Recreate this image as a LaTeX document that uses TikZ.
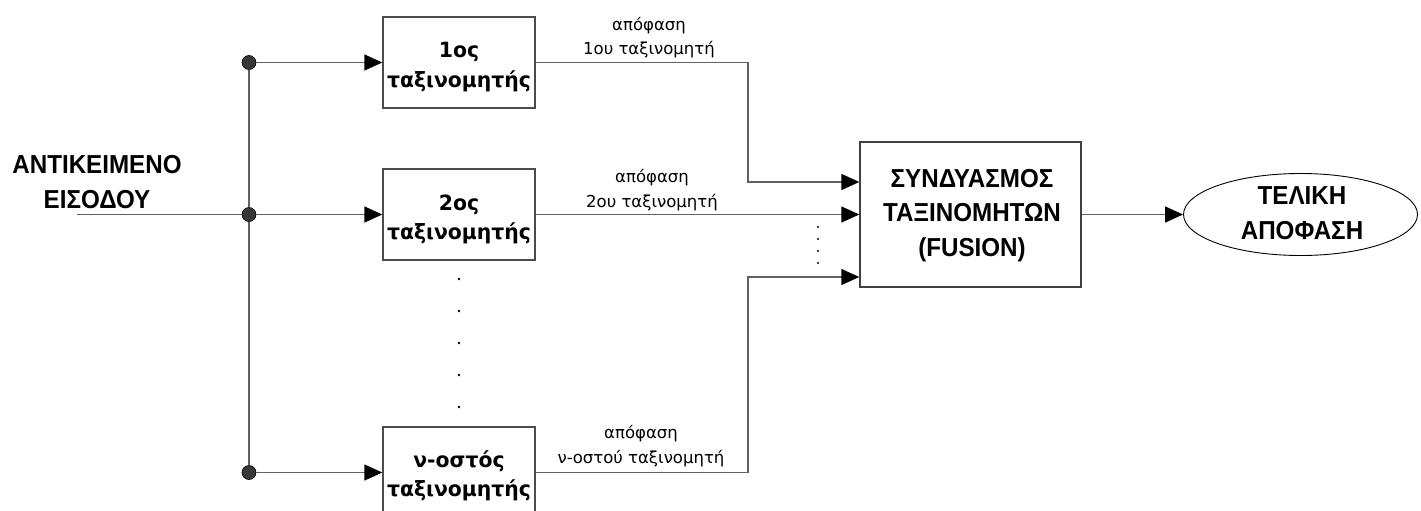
\documentclass[tikz,border=0pt]{standalone}
\usepackage{fontspec}
\setmainfont{DejaVu Sans}
\newfontfamily\capsfont{Liberation Sans}[FakeStretch=0.93]
\newfontfamily\tahfont{DejaVu Sans}[FakeStretch=0.97]
\usetikzlibrary{arrows.meta,calc,shapes.geometric}

\tikzset{
  wire/.style={draw=black!62, line width=1.4pt},
  arr/.style={wire, -{Triangle[length=18pt,width=16pt,color=black]}},
  clsbox/.style={draw=black!70, line width=1.4pt, minimum width=152pt,
                 minimum height=91pt, inner sep=0pt},
  fusbox/.style={draw=black!75, line width=1.4pt, minimum width=221pt,
                 minimum height=145pt, inner sep=0pt},
  outell/.style={ellipse, draw=black, line width=0.9pt, minimum width=234pt,
                 minimum height=82pt, inner sep=0pt},
  junc/.style={circle, draw=black, fill=black!78, line width=0.6pt,
               minimum size=14pt, inner sep=0pt},
  % the base anchor of a multi-line node sits on its last line
  boxtxt/.style={anchor=base, align=center, inner sep=0pt,
                 font=\tahfont\bfseries\fontsize{21}{29}\selectfont},
  lbl/.style={anchor=base, align=center, inner sep=0pt,
              font=\fontsize{16.5}{24.5}\selectfont},
  capstxt/.style={anchor=base, align=center, inner sep=0pt,
                  font=\capsfont\bfseries\fontsize{26}{34.5}\selectfont},
  dot/.style={fill=black}
}

\begin{document}
\begin{tikzpicture}[x=1pt,y=-1pt]
  \clip (0,0) rectangle (1421,511);

  % classifier boxes
  \node[clsbox] (c1) at (459,62.5) {};
  \node[clsbox] (c2) at (459,214.5) {};
  \node[clsbox] (cn) at (459,472.5) {};
  \node[boxtxt] (t1) at ($(c1.center)+(0,24.5)$) {1ος\\ταξινομητής};
  \node[boxtxt] (t2) at ($(c2.center)+(0,24.5)$) {2ος\\ταξινομητής};
  \node[boxtxt] (tn) at ($(cn.center)+(0,23.5)$) {ν-οστός\\ταξινομητής};

  % combination block and final decision
  \node[fusbox] (fus) at (970.5,214.5) {};
  \node[capstxt] (tf) at (972,256) {ΣΥΝΔΥΑΣΜΟΣ\\ΤΑΞΙΝΟΜΗΤΩΝ\\(FUSION)};
  \node[outell] (out) at (1300.5,214.5) {};
  \node[capstxt] (to) at (1302,239) {ΤΕΛΙΚΗ\\ΑΠΟΦΑΣΗ};

  % input object
  \node[capstxt] (tin) at (97,208) {ΑΝΤΙΚΕΙΜΕΝΟ\\ΕΙΣΟΔΟΥ};
  \coordinate (in) at (77,214.5);

  % branching points
  \node[junc] (j1) at (249,62.5) {};
  \node[junc] (j2) at (249,214.5) {};
  \node[junc] (jn) at (249,472.5) {};

  \draw[wire] (in) -- (j2);
  \draw[wire] (j1) -- (j2);
  \draw[wire] (j2) -- (jn);
  \draw[arr] (j1) -- (c1);
  \draw[arr] (j2) -- (c2);
  \draw[arr] (jn) -- (cn);

  % decisions routed to the combiner
  \coordinate (k1) at (748,62.5);
  \coordinate (kn) at (748,472.5);
  \coordinate (f1) at (fus.west |- 0,182);
  \coordinate (f3) at (fus.west |- 0,277);
  \draw[arr] (c1.east) -- (k1) |- (f1);
  \draw[arr] (c2.east) -- (fus.west);
  \draw[arr] (cn.east) -- (kn) |- (f3);
  \draw[arr] (fus.east) -- (out.west);

  % decision labels
  \node[lbl] (l1) at (649,55) {απόφαση\\1ου ταξινομητή};
  \node[lbl] (l2) at (652,207) {απόφαση\\2ου ταξινομητή};
  \node[lbl] (ln) at (641,463) {απόφαση\\ν-οστού ταξινομητή};

  % elided classifiers and inputs
  \foreach \yy in {279,311,343,375,407} \fill[dot] (459,\yy) circle (1.3);
  \foreach \yy in {227,239,251,263} \fill[dot] (818,\yy) circle (1.1);
\end{tikzpicture}
\end{document}
